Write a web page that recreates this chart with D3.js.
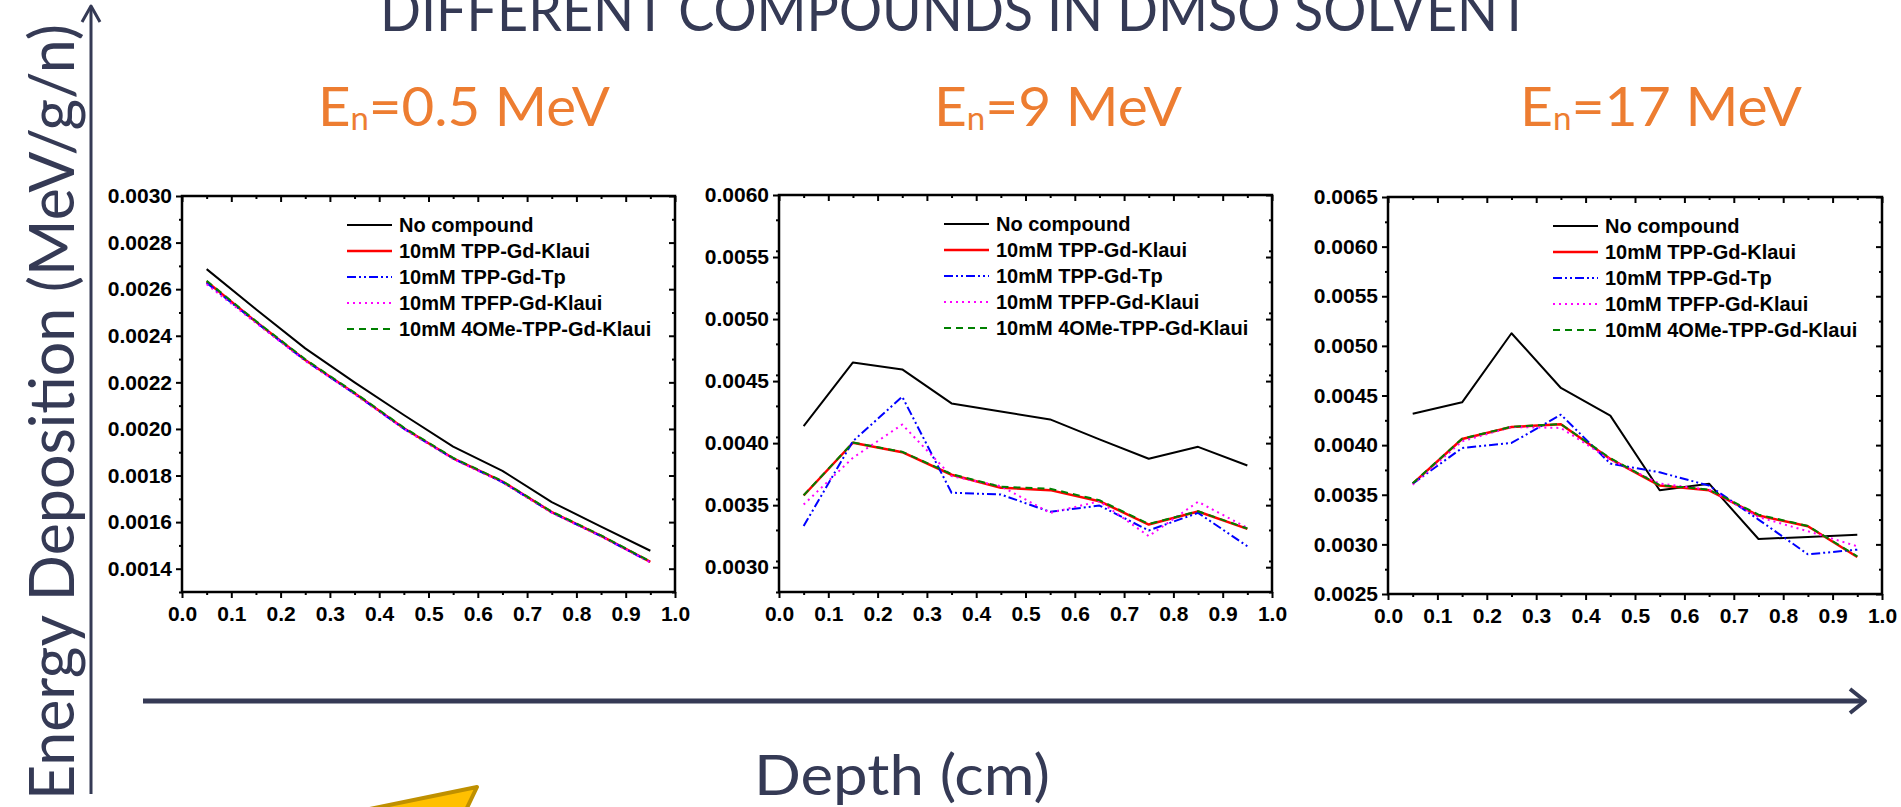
<!DOCTYPE html>
<html><head><meta charset="utf-8">
<script src="https://cdn.jsdelivr.net/npm/d3@7"></script>
<style>html,body{margin:0;padding:0;background:#fff;overflow:hidden}</style>
</head><body>
<svg id="chart" width="1901" height="807"></svg>
<script>
// ---------- data ----------
const depth = [0.05, 0.15, 0.25, 0.35, 0.45, 0.55, 0.65, 0.75, 0.85, 0.95];
const seriesNames = ["No compound", "10mM TPP-Gd-Klaui", "10mM TPP-Gd-Tp", "10mM TPFP-Gd-Klaui", "10mM 4OMe-TPP-Gd-Klaui"];
const xTickValues = [0.0, 0.1, 0.2, 0.3, 0.4, 0.5, 0.6, 0.7, 0.8, 0.9, 1.0];
const xTickLabels = ["0.0", "0.1", "0.2", "0.3", "0.4", "0.5", "0.6", "0.7", "0.8", "0.9", "1.0"];

// En = 0.5 MeV
const e05NoCompound   = [0.002686, 0.002514, 0.002346, 0.002200, 0.002060, 0.001924, 0.001820, 0.001686, 0.001581, 0.001477];
const e05TppGdKlaui   = [0.002633, 0.002460, 0.002296, 0.002153, 0.002003, 0.001874, 0.001774, 0.001643, 0.001541, 0.001429];
const e05TppGdTp      = [0.002627, 0.002458, 0.002294, 0.002151, 0.002001, 0.001873, 0.001772, 0.001642, 0.001540, 0.001428];
const e05TpfpGdKlaui  = [0.002621, 0.002455, 0.002292, 0.002150, 0.002000, 0.001871, 0.001771, 0.001640, 0.001539, 0.001427];
const e05OmeTppGdKlaui= [0.002636, 0.002463, 0.002299, 0.002156, 0.002006, 0.001876, 0.001776, 0.001645, 0.001543, 0.001431];
const e05YTicks = [0.0014, 0.0016, 0.0018, 0.0020, 0.0022, 0.0024, 0.0026, 0.0028, 0.0030];
const e05YTickLabels = ["0.0014", "0.0016", "0.0018", "0.0020", "0.0022", "0.0024", "0.0026", "0.0028", "0.0030"];

// En = 9 MeV
const e9NoCompound    = [0.004137, 0.004650, 0.004594, 0.004320, 0.004255, 0.004191, 0.004030, 0.003874, 0.003970, 0.003820];
const e9TppGdKlaui    = [0.003578, 0.004003, 0.003927, 0.003745, 0.003640, 0.003621, 0.003532, 0.003344, 0.003449, 0.003309];
const e9TppGdTp       = [0.003331, 0.004016, 0.004374, 0.003600, 0.003586, 0.003446, 0.003497, 0.003296, 0.003438, 0.003169];
const e9TpfpGdKlaui   = [0.003505, 0.003882, 0.004150, 0.003734, 0.003653, 0.003438, 0.003532, 0.003250, 0.003527, 0.003317];
const e9OmeTppGdKlaui = [0.003580, 0.004005, 0.003930, 0.003750, 0.003648, 0.003632, 0.003540, 0.003348, 0.003451, 0.003312];
const e9YTicks = [0.0030, 0.0035, 0.0040, 0.0045, 0.0050, 0.0055, 0.0060];
const e9YTickLabels = ["0.0030", "0.0035", "0.0040", "0.0045", "0.0050", "0.0055", "0.0060"];

// En = 17 MeV
const e17NoCompound    = [0.004317, 0.004431, 0.005127, 0.004576, 0.004297, 0.003545, 0.003612, 0.003054, 0.003075, 0.003098];
const e17TppGdKlaui    = [0.003612, 0.004062, 0.004183, 0.004210, 0.003861, 0.003592, 0.003545, 0.003290, 0.003182, 0.002873];
const e17TppGdTp       = [0.003612, 0.003971, 0.004022, 0.004307, 0.003814, 0.003726, 0.003592, 0.003250, 0.002900, 0.002947];
const e17TpfpGdKlaui   = [0.003602, 0.004039, 0.004183, 0.004173, 0.003854, 0.003612, 0.003552, 0.003276, 0.003132, 0.002981];
const e17OmeTppGdKlaui = [0.003615, 0.004065, 0.004185, 0.004212, 0.003868, 0.003597, 0.003552, 0.003300, 0.003185, 0.002880];
const e17YTicks = [0.0025, 0.0030, 0.0035, 0.0040, 0.0045, 0.0050, 0.0055, 0.0060, 0.0065];
const e17YTickLabels = ["0.0025", "0.0030", "0.0035", "0.0040", "0.0045", "0.0050", "0.0055", "0.0060", "0.0065"];

const panelLabels = ["0.5 MeV", "9 MeV", "17 MeV"];
const titleText = "DIFFERENT COMPOUNDS IN DMSO SOLVENT";
const yAxisTitle = "Energy Deposition (MeV/g/n)";
const xAxisTitle = "Depth (cm)";

// ---------- styles / layout ----------
const seriesStyles = [
  {color: "#000000", width: 2.0, dash: null},
  {color: "#ff0000", width: 2.5, dash: null},
  {color: "#0000ff", width: 2.0, dash: "9,3,2,3,2,3"},
  {color: "#ff00ff", width: 2.0, dash: "2,4"},
  {color: "#008000", width: 2.0, dash: "7,5"}
];
const navy = "#353a55";
const orange = "#ed7d31";
const tickFont = "'Liberation Sans', Arial, sans-serif";
const slideFont = "Lato, sans-serif";

const panels = [
  {box: {l: 182, r: 675, t: 196, b: 592}, yDomain: [0.0013, 0.0030], yMinorStep: 0.0001,
   yTicks: e05YTicks, yLabels: e05YTickLabels,
   series: [e05NoCompound, e05TppGdKlaui, e05TppGdTp, e05TpfpGdKlaui, e05OmeTppGdKlaui],
   label: panelLabels[0], labelX: 318, labelW: 292},
  {box: {l: 779, r: 1272, t: 195, b: 592}, yDomain: [0.0028, 0.0060], yMinorStep: 0.00025,
   yTicks: e9YTicks, yLabels: e9YTickLabels,
   series: [e9NoCompound, e9TppGdKlaui, e9TppGdTp, e9TpfpGdKlaui, e9OmeTppGdKlaui],
   label: panelLabels[1], labelX: 934, labelW: 248},
  {box: {l: 1388, r: 1882, t: 197, b: 594}, yDomain: [0.0025, 0.0065], yMinorStep: 0.00025,
   yTicks: e17YTicks, yLabels: e17YTickLabels,
   series: [e17NoCompound, e17TppGdKlaui, e17TppGdTp, e17TpfpGdKlaui, e17OmeTppGdKlaui],
   label: panelLabels[2], labelX: 1520, labelW: 282}
];

const svg = d3.select("#chart");

// ---------- decorative arrows ----------
svg.append("line").attr("x1", 91).attr("y1", 794).attr("x2", 91).attr("y2", 7)
  .attr("stroke", navy).attr("stroke-width", 3);
svg.append("path").attr("d", "M82,22 L91,6 L100,22").attr("fill", "none")
  .attr("stroke", navy).attr("stroke-width", 3).attr("stroke-linejoin", "round");
svg.append("line").attr("x1", 143).attr("y1", 701).attr("x2", 1864).attr("y2", 701)
  .attr("stroke", navy).attr("stroke-width", 5);
svg.append("path").attr("d", "M1850,689 L1865,701 L1850,713").attr("fill", "none")
  .attr("stroke", navy).attr("stroke-width", 4).attr("stroke-linejoin", "round");

// yellow arrow fragment
svg.append("path").attr("d", "M355,812 L477,787 L465,812 Z")
  .attr("fill", "#ffc000").attr("stroke", "#bf9000").attr("stroke-width", 4).attr("stroke-linejoin", "round");

// ---------- texts ----------
svg.append("text").attr("x", 380).attr("y", 31)
  .attr("font-family", slideFont).attr("font-weight", 400).attr("font-size", 58)
  .attr("fill", navy).attr("textLength", 1150).attr("lengthAdjust", "spacingAndGlyphs").text(titleText);

svg.append("text").attr("transform", "translate(74,412) rotate(-90)")
  .attr("text-anchor", "middle")
  .attr("font-family", slideFont).attr("font-weight", 400).attr("font-size", 62)
  .attr("fill", navy).attr("textLength", 776).attr("lengthAdjust", "spacingAndGlyphs").text(yAxisTitle);

svg.append("text").attr("x", 754).attr("y", 795)
  .attr("font-family", slideFont).attr("font-weight", 400).attr("font-size", 57)
  .attr("fill", navy).attr("textLength", 296).attr("lengthAdjust", "spacingAndGlyphs").text(xAxisTitle);

// ---------- panels ----------
panels.forEach(p => {
  const {l, r, t, b} = p.box;
  const x = d3.scaleLinear().domain([0, 1]).range([l, r]);
  const y = d3.scaleLinear().domain(p.yDomain).range([b, t]);

  // panel energy label
  const lab = svg.append("text").attr("x", p.labelX).attr("y", 126)
    .attr("font-family", slideFont).attr("font-size", 55).attr("fill", orange)
    .attr("textLength", p.labelW).attr("lengthAdjust", "spacingAndGlyphs");
  lab.append("tspan").text("E");
  lab.append("tspan").attr("font-size", 32).attr("dy", 4).text("n");
  lab.append("tspan").attr("dy", -4).text("=" + p.label);

  const g = svg.append("g");
  const xMinor = d3.range(0.05, 1.0, 0.1);
  const yMinor = d3.range(p.yDomain[0], p.yDomain[1] + 1e-9, p.yMinorStep)
    .filter(v => !p.yTicks.some(tv => Math.abs(tv - v) < 1e-8));

  const styleAxis = sel => {
    sel.select(".domain").remove();
    sel.selectAll("line").attr("stroke", "#000").attr("stroke-width", 2);
    sel.selectAll("text").attr("font-family", tickFont).attr("font-weight", "bold")
      .attr("font-size", 21).attr("fill", "#000");
  };

  // bottom
  g.append("g").attr("transform", `translate(0,${b})`)
    .call(d3.axisBottom(x).tickValues(xTickValues).tickFormat((d, i) => xTickLabels[i]).tickSize(6).tickPadding(8))
    .call(styleAxis);
  g.append("g").attr("transform", `translate(0,${b})`)
    .call(d3.axisBottom(x).tickValues(xMinor).tickFormat("").tickSize(3)).call(styleAxis);
  // top (inward)
  g.append("g").attr("transform", `translate(0,${t})`)
    .call(d3.axisTop(x).tickValues(xTickValues).tickFormat("").tickSize(-6)).call(styleAxis);
  g.append("g").attr("transform", `translate(0,${t})`)
    .call(d3.axisTop(x).tickValues(xMinor).tickFormat("").tickSize(-3)).call(styleAxis);
  // left
  g.append("g").attr("transform", `translate(${l},0)`)
    .call(d3.axisLeft(y).tickValues(p.yTicks).tickFormat((d, i) => p.yLabels[i]).tickSize(6).tickPadding(4))
    .call(styleAxis);
  g.append("g").attr("transform", `translate(${l},0)`)
    .call(d3.axisLeft(y).tickValues(yMinor).tickFormat("").tickSize(3)).call(styleAxis);
  // right (inward)
  g.append("g").attr("transform", `translate(${r},0)`)
    .call(d3.axisRight(y).tickValues(p.yTicks).tickFormat("").tickSize(-6)).call(styleAxis);
  g.append("g").attr("transform", `translate(${r},0)`)
    .call(d3.axisRight(y).tickValues(yMinor).tickFormat("").tickSize(-3)).call(styleAxis);

  // frame
  g.append("rect").attr("x", l).attr("y", t).attr("width", r - l).attr("height", b - t)
    .attr("fill", "none").attr("stroke", "#000").attr("stroke-width", 2.5);

  // lines
  const line = d3.line().x((d, i) => x(depth[i])).y(d => y(d));
  p.series.forEach((s, k) => {
    const st = seriesStyles[k];
    g.append("path").datum(s).attr("d", line).attr("fill", "none")
      .attr("stroke", st.color).attr("stroke-width", st.width)
      .attr("stroke-dasharray", st.dash).attr("stroke-linejoin", "round");
  });

  // legend
  const lg = g.append("g");
  seriesNames.forEach((name, k) => {
    const st = seriesStyles[k];
    const ry = t + 29 + k * 26;
    lg.append("line").attr("x1", l + 165).attr("x2", l + 210).attr("y1", ry).attr("y2", ry)
      .attr("stroke", st.color).attr("stroke-width", st.width).attr("stroke-dasharray", st.dash);
    lg.append("text").attr("x", l + 217).attr("y", ry).attr("dy", "0.36em")
      .attr("font-family", tickFont).attr("font-weight", "bold").attr("font-size", 20)
      .attr("fill", "#000").text(name);
  });
});
</script>
</body></html>
